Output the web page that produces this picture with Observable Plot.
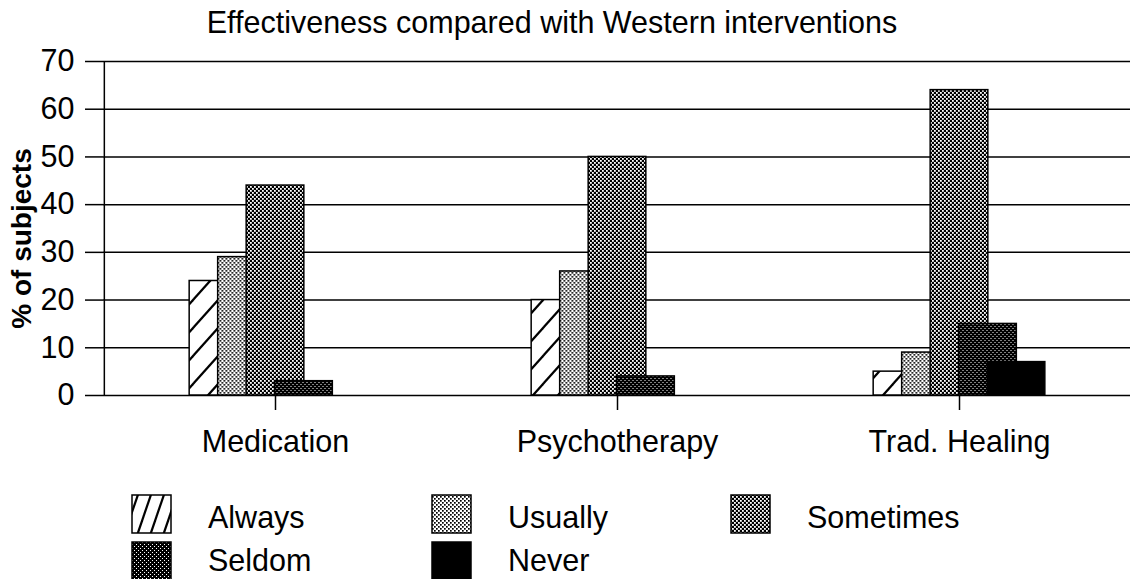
<!DOCTYPE html>
<html><head><meta charset="utf-8">
<script src="https://cdn.jsdelivr.net/npm/d3@7"></script>
<script src="https://cdn.jsdelivr.net/npm/@observablehq/plot@0.6"></script>
<style>
body{margin:0;background:#fff;font-family:"Liberation Sans",Arial,sans-serif;}
#wrap{position:relative;width:1130px;height:579px;overflow:hidden;background:#fff;}
#title{position:absolute;left:0;top:7px;width:1104px;text-align:center;font-size:30.5px;line-height:30px;color:#000;white-space:nowrap;}
#chart{position:absolute;left:0;top:48px;}
#legend{position:absolute;left:0;top:480px;}
</style></head><body>
<div id="wrap">
  <div id="title">Effectiveness compared with Western interventions</div>
  <div id="chart"></div>
  <div id="legend"></div>
</div>
<script>
// ---- data ----
const categories = ["Medication", "Psychotherapy", "Trad. Healing"];
const seriesNames = ["Always", "Usually", "Sometimes", "Seldom", "Never"];
const always    = [24, 20, 5];
const usually   = [29, 26, 9];
const sometimes = [44, 50, 64];
const seldom    = [3, 4, 15];
const never     = [0, 0, 7];
const yTicks = [0, 10, 20, 30, 40, 50, 60, 70];
const yLabel = "% of subjects";

const seriesValues = [always, usually, sometimes, seldom, never];
const patternIds = ["pAlways", "pUsually", "pSometimes", "pSeldom", "pNever"];

// ---- layout styles ----
const W = 1130, H = 417;
const mL = 103, mR = 0, mT = 13, mB = 70;
const bandStep = (W - mL - mR) / categories.length;
const BAR_W = 58, BAR_STEP = 28.5;
const inset = (bandStep - BAR_W) / 2;
const FS = 30.5;

const barMarks = seriesValues.map((vals, j) =>
  Plot.barY(categories.map((c, i) => ({category: c, value: vals[i]})), {
    x: "category", y: "value",
    fill: `url(#${patternIds[j]})`,
    stroke: "#000", strokeWidth: 1.5,
    insetLeft: inset, insetRight: inset,
    dx: (j - 2) * BAR_STEP
  })
);

const svg = Plot.plot({
  width: W, height: H,
  marginLeft: mL, marginRight: mR, marginTop: mT, marginBottom: mB,
  style: {fontFamily: "'Liberation Sans', Arial, sans-serif", color: "#000", background: "#fff", overflow: "visible"},
  x: {domain: categories, padding: 0},
  y: {domain: [0, 70]},
  marks: [
    Plot.ruleY(yTicks, {stroke: "#000", strokeWidth: 1.5}),
    Plot.ruleX([categories[0]], {x: d => d, dx: -bandStep / 2, y1: 0, y2: 70, stroke: "#000", strokeWidth: 1.5}),
    ...barMarks,
    Plot.axisY(yTicks, {tickSize: 18, tickPadding: 11, fontSize: FS, strokeWidth: 1.5, label: null}),
    Plot.axisX({tickSize: 15, tickPadding: 20, fontSize: FS, strokeWidth: 1.5, label: null}),
    Plot.text([yLabel], {text: d => d, frameAnchor: "left", textAnchor: "middle", rotate: -90, dx: -81, dy: 10, fontWeight: "bold", fontSize: 28})
  ]
});

// ---- patterns ----
const defs = d3.select(svg).insert("defs", ":first-child");
function hatch(id, w, h, sw) {
  const p = defs.append("pattern").attr("id", id).attr("patternUnits", "userSpaceOnUse")
    .attr("width", w).attr("height", h);
  p.append("rect").attr("width", w).attr("height", h).attr("fill", "#fff");
  [-w, 0, w].forEach(o => p.append("line")
    .attr("x1", o - w).attr("y1", 2 * h).attr("x2", o + 2 * w).attr("y2", -h)
    .attr("stroke", "#000").attr("stroke-width", sw));
}
function dots(id, bg, fg, s) {
  const p = defs.append("pattern").attr("id", id).attr("patternUnits", "userSpaceOnUse")
    .attr("width", 4).attr("height", 4);
  p.append("rect").attr("width", 4).attr("height", 4).attr("fill", bg);
  p.append("rect").attr("x", 0).attr("y", 0).attr("width", s).attr("height", s).attr("fill", fg);
  p.append("rect").attr("x", 2).attr("y", 2).attr("width", s).attr("height", s).attr("fill", fg);
}
hatch("pAlways", 25, 28, 2.2);
hatch("pAlwaysLegend", 13, 38, 2.2);
dots("pUsually", "#fff", "#000", 1.7);
dots("pSometimes", "#000", "#fff", 1.8);
dots("pSeldom", "#000", "#fff", 1.0);
defs.append("pattern").attr("id", "pNever").attr("patternUnits", "userSpaceOnUse")
  .attr("width", 4).attr("height", 4)
  .append("rect").attr("width", 4).attr("height", 4).attr("fill", "#000");

document.getElementById("chart").appendChild(svg);

// ---- legend ----
const legendCols = [132, 432, 731];
const lg = d3.select("#legend").append("svg").attr("width", W).attr("height", 99)
  .style("font-family", "'Liberation Sans', Arial, sans-serif");
seriesNames.forEach((name, j) => {
  const col = j % 3, row = Math.floor(j / 3);
  const x = legendCols[col], y = 15 + row * 47;
  lg.append("rect").attr("x", x).attr("y", y).attr("width", 39).attr("height", 38)
    .attr("fill", `url(#${j === 0 ? "pAlwaysLegend" : patternIds[j]})`)
    .attr("stroke", "#000").attr("stroke-width", 1.5);
  lg.append("text").attr("x", x + 76).attr("y", row === 0 ? 48 : 91).attr("font-size", FS)
    .attr("fill", "#000").text(name);
});
</script>
</body></html>
